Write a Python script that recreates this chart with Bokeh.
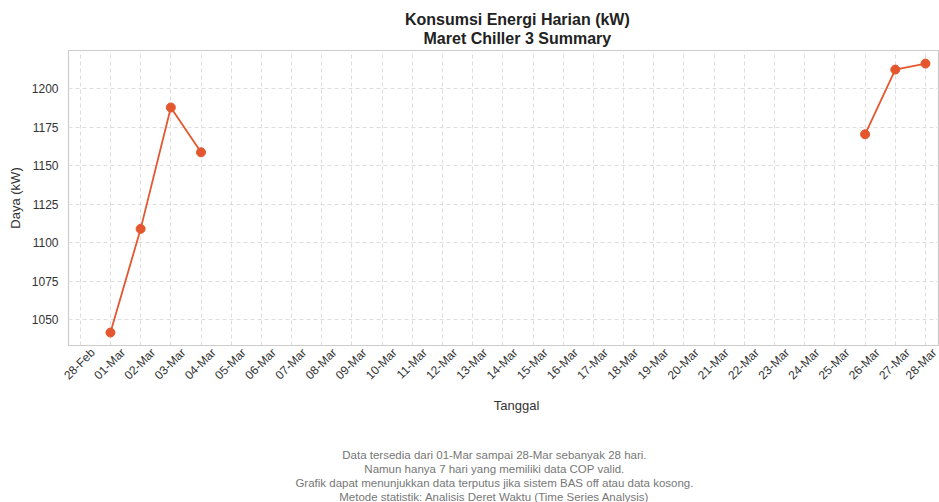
import numpy as np
import pandas as pd
from bokeh.plotting import figure
from bokeh.models import (ColumnDataSource, FixedTicker, DatetimeTickFormatter,
                          Range1d, Title)
from bokeh.embed import file_html
from bokeh.resources import INLINE

# ---------------- data ----------------
dates = pd.date_range("2025-03-01", "2025-03-28", freq="D")
daya = [1041.6, 1108.9, 1187.7, 1158.6] + [np.nan] * 21 + [1170.3, 1212.3, 1216.2]
y_ticks = [1050, 1075, 1100, 1125, 1150, 1175, 1200]
tick_dates = pd.date_range("2025-02-28", "2025-03-28", freq="D")
title_lines = ["Konsumsi Energi Harian (kW)", "Maret Chiller 3 Summary"]
x_label = "Tanggal"
y_label = "Daya (kW)"
notes = [
    "Data tersedia dari 01-Mar sampai 28-Mar sebanyak 28 hari.",
    "Namun hanya 7 hari yang memiliki data COP valid.",
    "Grafik dapat menunjukkan data terputus jika sistem BAS off atau data kosong.",
    "Metode statistik: Analisis Deret Waktu (Time Series Analysis)",
]

src = ColumnDataSource(dict(x=dates, y=daya))

FONT = "Liberation Sans"
COLOR = "#E4572E"
DAY = pd.Timedelta(days=1)
NB = "\u00a0"

x_start = dates[0] - 1.39 * DAY
x_end = dates[-1] + 0.465 * DAY

p = figure(width=939, height=502, output_backend="svg", toolbar_location=None,
           x_axis_type="datetime",
           x_range=Range1d(x_start, x_end), y_range=Range1d(1033.2, 1224.7),
           min_border_left=68, min_border_right=0, min_border_top=0,
           min_border_bottom=0,
           background_fill_color="white", border_fill_color="white")
p.title = None

p.line("x", "y", source=src, color=COLOR, line_width=1.8)
p.scatter("x", "y", source=src, size=9, color=COLOR)

# x axis: labels centred under each day (matplotlib-style rotated labels)
to_ms = lambda ts: ts.value // 10**6
label_shift = 0.42 * DAY
p.xaxis.ticker = FixedTicker(ticks=[to_ms(d + label_shift) for d in tick_dates])
fmt = "%d-%b"
p.xaxis.formatter = DatetimeTickFormatter(days=fmt, months=fmt, hours=fmt,
                                          minutes=fmt, years=fmt, hourmin=fmt,
                                          seconds=fmt, milliseconds=fmt,
                                          minsec=fmt, microseconds=fmt)
p.xaxis.major_label_orientation = np.pi / 4
p.xgrid[0].ticker = FixedTicker(ticks=[to_ms(d) for d in tick_dates])
p.yaxis.ticker = FixedTicker(ticks=y_ticks)

for ax in (p.xaxis[0], p.yaxis[0]):
    ax.axis_line_color = None
    ax.major_tick_line_color = None
    ax.minor_tick_line_color = None
    ax.major_tick_out = 0
    ax.major_tick_in = 0
    ax.minor_tick_out = 0
    ax.major_label_text_font = FONT
    ax.major_label_text_font_size = "12px"
    ax.major_label_text_color = "#333333"
    ax.axis_label_text_font = FONT
    ax.axis_label_text_font_size = "13px"
    ax.axis_label_text_font_style = "normal"
    ax.axis_label_text_color = "#333333"

p.yaxis.axis_label = y_label
p.yaxis.major_label_standoff = 10
p.yaxis.axis_label_standoff = 6
p.xaxis.axis_label = NB * 7 + x_label
p.xaxis.major_label_standoff = 5
p.xaxis.axis_label_standoff = 8

p.outline_line_color = "#cccccc"
p.outline_line_width = 1.2

for g in (p.xgrid[0], p.ygrid[0]):
    g.grid_line_color = "#dddddd"
    g.grid_line_dash = "4 3"
    g.grid_line_width = 1

def title(txt, size, style, color, standoff, valign):
    return Title(text=txt, align="center", vertical_align=valign,
                 text_font=FONT, text_font_size=size, text_font_style=style,
                 text_color=color, standoff=standoff)

# above: added from closest-to-plot outward
p.add_layout(title(NB * 6 + title_lines[1], "16px", "bold", "#222222", 4, "top"), "above")
p.add_layout(title(NB * 6 + title_lines[0], "16px", "bold", "#222222", 0, "bottom"), "above")
p.add_layout(title(NB, "1px", "normal", "#ffffff", 5, "bottom"), "above")

# below: spacer then the notes
p.add_layout(title(NB, "1px", "normal", "#ffffff", 27, "bottom"), "below")
for t in notes:
    p.add_layout(title(t + NB * 6, "11.5px", "normal", "#777777", 0, "bottom"), "below")

open("out.html", "w").write(file_html(p, INLINE))
